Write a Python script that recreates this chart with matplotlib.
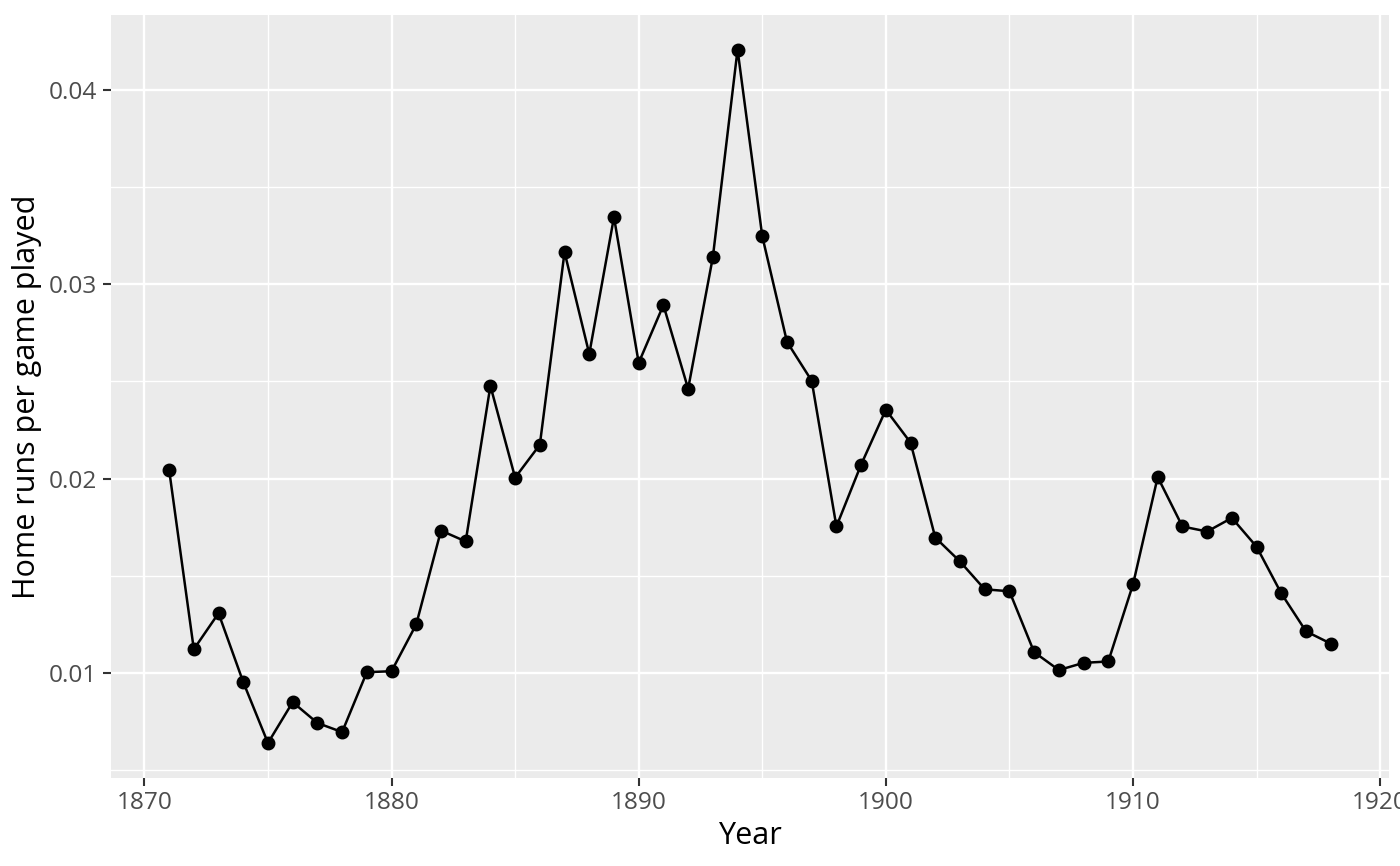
import matplotlib
matplotlib.use("Agg")
import matplotlib.pyplot as plt
from matplotlib.ticker import MultipleLocator

years = list(range(1871, 1919))
hr_per_game = [
    0.02046, 0.01123, 0.01308, 0.00954, 0.00641, 0.00851, 0.00744, 0.00697,
    0.01005, 0.01010, 0.01251, 0.01733, 0.01677, 0.02477, 0.02005, 0.02174,
    0.03164, 0.02641, 0.03344, 0.02595, 0.02892, 0.02462, 0.03138, 0.04205,
    0.03246, 0.02703, 0.02503, 0.01754, 0.02072, 0.02354, 0.02185, 0.01697,
    0.01574, 0.01431, 0.01421, 0.01108, 0.01016, 0.01053, 0.01060, 0.01456,
    0.02008, 0.01754, 0.01728, 0.01798, 0.01650, 0.01410, 0.01215, 0.01152,
]

plt.rcParams['font.family'] = ['Open Sans', 'DejaVu Sans']

fig = plt.figure(figsize=(7, 4.33), dpi=200)
ax = fig.add_axes([0.0793, 0.102, 0.9127, 0.8807])
ax.set_facecolor("#EBEBEB")

ax.plot(years, hr_per_game, color="black", linewidth=0.9, zorder=3)
ax.plot(years, hr_per_game, "o", color="black", markersize=4.0, zorder=4)

# ggplot-like expansion of 5%
x0, x1 = min(years), max(years)
y0, y1 = min(hr_per_game), max(hr_per_game)
dx, dy = (x1 - x0) * 0.05, (y1 - y0) * 0.05
ax.set_xlim(x0 - dx, x1 + dx)
ax.set_ylim(y0 - dy, y1 + dy)

ax.xaxis.set_minor_locator(MultipleLocator(5))
ax.yaxis.set_minor_locator(MultipleLocator(0.005))
ax.set_xticks(range(1870, 1921, 10))
ax.set_xticklabels([str(v) for v in range(1870, 1921, 10)])
ax.set_yticks([0.01, 0.02, 0.03, 0.04])
ax.set_yticklabels(["0.01", "0.02", "0.03", "0.04"])

ax.grid(which="major", color="white", linewidth=0.85)
ax.grid(which="minor", color="white", linewidth=0.5)
ax.set_axisbelow(True)
for s in ax.spines.values():
    s.set_visible(False)

ax.tick_params(which="major", length=2.75, width=0.75, color="#333333",
               labelcolor="#4D4D4D", labelsize=8.8, pad=2.2)
ax.tick_params(which="minor", length=0)

ax.set_xlabel("Year", fontsize=11, color="black", labelpad=2)
ax.set_ylabel("Home runs per game played", fontsize=11, color="black", labelpad=2.5)

fig.savefig("out.png", dpi=200)
